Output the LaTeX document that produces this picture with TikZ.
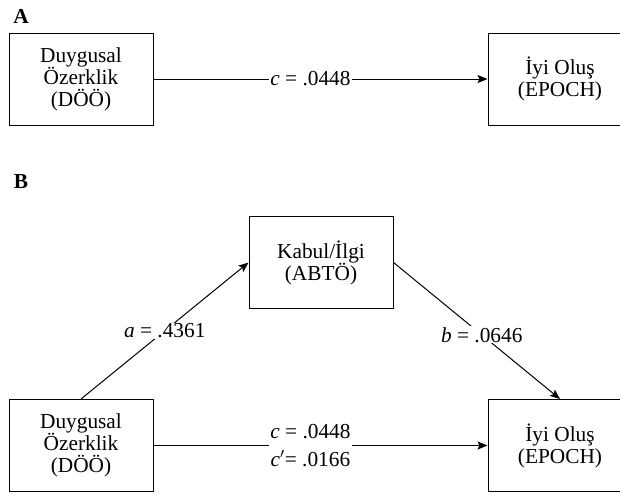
\documentclass[tikz,border=0pt]{standalone}
\usepackage{fontspec}
\setmainfont{Liberation Serif}
\usetikzlibrary{arrows.meta}

\begin{document}
\begin{tikzpicture}[x=0.75pt,y=0.75pt,yscale=-1,xscale=1,
  varbox/.style={draw,line width=0.75pt,minimum width=108pt,minimum height=69pt,inner sep=0pt,align=center,font=\fontsize{16}{16.5}\selectfont},
  pathline/.style={line width=0.75pt,-{Stealth[length=7.5pt,width=6pt,inset=1.5pt]}},
  coef/.style={fill=white,inner sep=0.75pt,align=center,font=\fontsize{16}{21.5}\selectfont},
  panel/.style={inner sep=0.75pt,font=\fontsize{16}{17}\selectfont\bfseries}]
\useasboundingbox (0,0) rectangle (620,493);
% Panel A
\node [panel] (labA) at (21,16) {A};
%Shape: Rectangle [DÖÖ]
\node [varbox] (doA) at (81,79) {Duygusal\\Özerklik\\(DÖÖ)};
%Shape: Rectangle [EPOCH]
\node [varbox] (epA) at (560,79) {İyi Oluş\\(EPOCH)};
%Straight Lines [c]
\draw [pathline] (doA) -- node [coef,pos=0.47] {\textit{c} = .0448} (epA);
% Panel B
\node [panel] (labB) at (21,182) {B};
%Shape: Rectangle [ABTÖ]
\node [varbox] (abB) at (321,262.5) {Kabul/İlgi\\(ABTÖ)};
%Shape: Rectangle [DÖÖ]
\node [varbox] (doB) at (81,445.5) {Duygusal\\Özerklik\\(DÖÖ)};
%Shape: Rectangle [EPOCH]
\node [varbox] (epB) at (560,445.5) {İyi Oluş\\(EPOCH)};
%Straight Lines [a]
\draw [pathline] (doB.north) -- node [coef] {\textit{a} = .4361} (abB.west);
%Straight Lines [b]
\draw [pathline] (abB.east) -- node [coef,pos=0.53] {\textit{b} = .0646} (epB.north);
%Straight Lines [c, c']
\draw [pathline] (doB) -- node [coef,pos=0.47] {\textit{c} = .0448\\\textit{c}$'$= .0166} (epB);
\end{tikzpicture}
\end{document}
